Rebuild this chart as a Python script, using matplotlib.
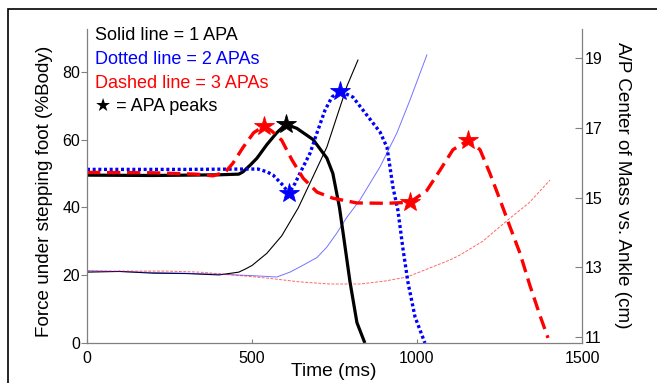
import matplotlib
matplotlib.use("Agg")
import matplotlib.pyplot as plt
from matplotlib.patches import Rectangle

plt.rcParams["font.family"] = ["Liberation Sans", "DejaVu Sans"]

# force under stepping foot (% body), thick lines, left axis
t_one = [0, 200, 400, 460, 473, 495, 515, 545, 575, 603, 636, 685, 727, 745,
         757, 765, 776, 797, 818, 842]
f_one = [49.5, 49.4, 49.6, 49.8, 50.5, 52.5, 54.5, 58.5, 62, 64.5, 63.3, 60,
         54.5, 50, 44, 40, 32.5, 18, 6, 0]

t_two = [0, 300, 480, 518, 545, 564, 594, 612, 630, 645, 676, 697, 721, 742,
         767, 806, 848, 888, 909, 918, 927, 942, 958, 973, 994, 1024]
f_two = [51.2, 51.2, 51.3, 51.3, 50.5, 49.5, 46.5, 44.1, 47, 50, 56, 62, 68.6,
         72.5, 74.3, 72.5, 67.2, 62.2, 57.7, 52, 46, 39.2, 27.4, 17.7, 7.7, 0]

t_three = [0, 200, 330, 382, 420, 442, 473, 505, 536, 560, 590, 621, 655, 697,
           745, 818, 909, 979, 1030, 1070, 1109, 1155, 1191, 1221, 1252, 1282,
           1312, 1342, 1373, 1397]
f_three = [50.3, 50.2, 49.8, 49.3, 50.5, 53, 57.7, 62, 64, 62.5, 59.8, 54,
           48.6, 44.5, 42.7, 41.3, 41.2, 41.5, 45, 51, 57, 59.8, 57, 50, 42.1,
           34.2, 26.5, 17, 8, 1.5]

# APA peaks (stars)
pk_one_t, pk_one_f = [603], [64.5]
pk_two_t, pk_two_f = [612, 767], [44.1, 74.3]
pk_three_t, pk_three_f = [536, 979, 1155], [64, 41.5, 59.8]

# A/P centre of mass vs ankle (cm), thin lines, right axis
c_t_one = [0, 100, 200, 300, 400, 460, 480, 500, 545, 590, 640, 685, 727,
           767, 788, 821]
c_one = [12.86, 12.88, 12.83, 12.82, 12.78, 12.86, 12.95, 13.05, 13.4, 13.9,
         14.7, 15.6, 16.45, 17.6, 18.2, 18.94]

c_t_two = [0, 200, 400, 500, 575, 615, 655, 697, 727, 757, 788, 827, 888,
           939, 979, 1030]
c_two = [12.9, 12.85, 12.8, 12.76, 12.72, 12.86, 13.06, 13.28, 13.58, 13.98,
         14.44, 14.93, 15.88, 16.85, 17.8, 19.09]

c_t_three = [0, 242, 342, 442, 545, 645, 736, 827, 900, 970, 1039, 1100, 1130,
             1200, 1282, 1340, 1403]
c_three = [12.89, 12.89, 12.86, 12.78, 12.69, 12.58, 12.52, 12.52, 12.6,
           12.72, 12.98, 13.21, 13.35, 13.75, 14.41, 14.85, 15.5]

x_ticks = [0, 500, 1000, 1500]
left_ticks = [0, 20, 40, 60, 80]
right_ticks = [11, 13, 15, 17, 19]

legend_lines = [("Solid line = 1 APA", "black"),
                ("Dotted line = 2 APAs", "#0000ff"),
                ("Dashed line = 3 APAs", "#ff0000"),
                ("\u2605 = APA peaks", "black")]

W, H = 657, 383
fig = plt.figure(figsize=(W / 100, H / 100), dpi=100)
ax = fig.add_axes([87 / W, 1 - 343 / H, (582 - 87) / W, (343 - 29) / H])
ax2 = ax.twinx()

spine_c = "#808080"

# thin lines first (right axis)
ax2.plot(c_t_one, c_one, color="black", lw=0.8)
ax2.plot(c_t_two, c_two, color="#0000ff", lw=0.7, alpha=0.55)
ax2.plot(c_t_three, c_three, color="#ff0000", lw=0.7, alpha=0.6,
         linestyle=(0, (3, 1.5)))

ax.plot(t_one, f_one, color="black", lw=2.3, solid_capstyle="butt")
ax.plot(t_two, f_two, color="#0000ff", lw=2.4, linestyle=(0, (0.9, 0.8)))
ax.plot(t_three, f_three, color="#ff0000", lw=2.4, linestyle=(0, (4, 2)))

star = dict(marker="*", linestyle="none", markersize=15, markeredgewidth=0.6)
ax.plot(pk_one_t, pk_one_f, color="black", **star)
ax.plot(pk_two_t, pk_two_f, color="#0000ff", **star)
ax.plot(pk_three_t, pk_three_f, color="#ff0000", **star)

ax.set_xlim(0, 1500)
ax.set_ylim(0, 92.6)
ax2.set_ylim(11 - 6 / 34.875, 11 + (337 - 29) / 34.875)
ax.set_zorder(ax2.get_zorder() + 1)
ax.patch.set_visible(False)

ax.set_xticks(x_ticks)
ax.set_yticks(left_ticks)
ax2.set_yticks(right_ticks)

for a in (ax, ax2):
    a.spines["top"].set_visible(False)
    for s in ("left", "right", "bottom"):
        a.spines[s].set_color(spine_c)
        a.spines[s].set_linewidth(0.9)
ax.spines["right"].set_visible(False)
ax2.spines["left"].set_visible(False)
ax2.spines["bottom"].set_visible(False)

ax.tick_params(axis="x", direction="in", length=3, color=spine_c, pad=6,
               labelsize=11.5)
ax.tick_params(axis="y", direction="out", length=4, color=spine_c, pad=1,
               labelsize=11.5)
ax2.tick_params(axis="y", direction="in", length=5, color=spine_c, pad=2,
                labelsize=11.5)

fig.text(334 / W, 1 - 372 / H, "Time (ms)", ha="center", va="center",
         fontsize=13.8)
fig.text(45 / W, 1 - 191 / H, "Force under stepping foot (%Body)",
         ha="center", va="center", rotation=90, fontsize=13.6)
fig.text(623 / W, 1 - 185 / H, "A/P Center of Mass vs. Ankle (cm)",
         ha="center", va="center", rotation=270, fontsize=13.6)

ys = [36, 59, 83, 106]
for (txt, col), y in zip(legend_lines, ys):
    fig.text(95 / W, 1 - y / H, txt, color=col, ha="left", va="center",
             fontsize=13)

# frame around the whole figure
fig.patches.append(Rectangle((8 / W, -0.1), 1.2, 1.1 - 9 / H,
                             transform=fig.transFigure, fill=False,
                             edgecolor="black", lw=1.2))

fig.savefig("out.png", dpi=100)
